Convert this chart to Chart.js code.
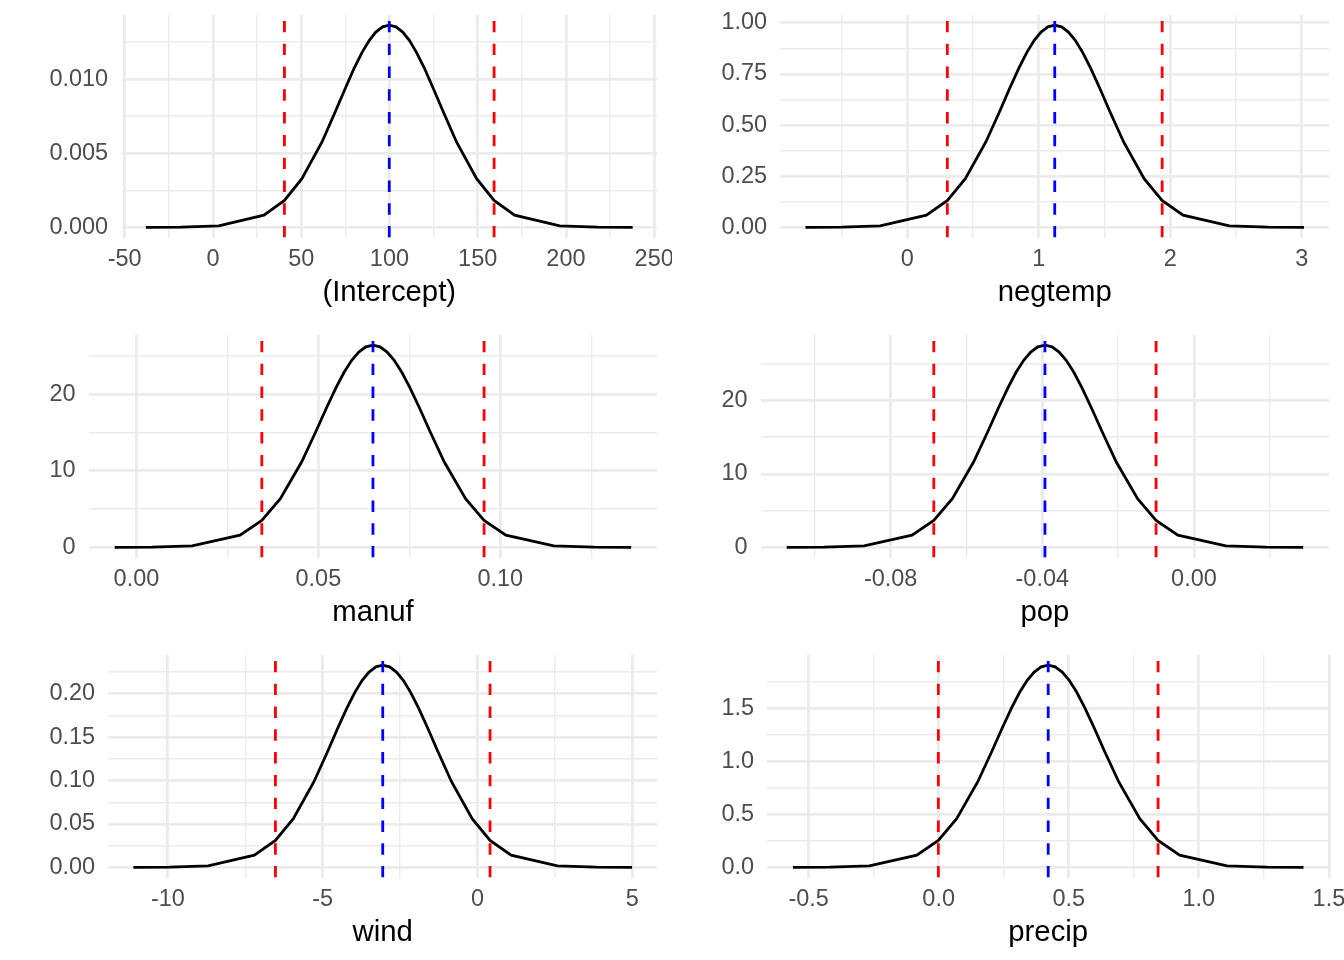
<!DOCTYPE html>
<html>
<head>
<meta charset="utf-8">
<script src="https://cdn.jsdelivr.net/npm/chart.js@4.4.1/dist/chart.umd.min.js"></script>
<style>
  html, body { margin: 0; padding: 0; background: #ffffff; }
  #grid { display: grid; grid-template-columns: 672px 672px; grid-template-rows: 320px 320px 320px; width: 1344px; height: 960px; }
  .cell { position: relative; width: 672px; height: 320px; }
</style>
</head>
<body>
<div id="grid">
  <div class="cell"><canvas id="p0"></canvas></div>
  <div class="cell"><canvas id="p1"></canvas></div>
  <div class="cell"><canvas id="p2"></canvas></div>
  <div class="cell"><canvas id="p3"></canvas></div>
  <div class="cell"><canvas id="p4"></canvas></div>
  <div class="cell"><canvas id="p5"></canvas></div>
</div>
<script>
// === Data: density curves ===
const panelNames = ['(Intercept)', 'negtemp', 'manuf', 'pop', 'wind', 'precip'];
const meanValues = [99.9, 1.122, 0.0650, -0.0393, -3.06, 0.421];
const ciLower = [40.5, 0.305, 0.03446, -0.06862, -6.526, -0.0013];
const ciUpper = [159.3, 1.939, 0.09554, -0.00999, 0.406, 0.8433];

const interceptX = [-38.0, -18.3, 3.3, 28.9, 40.5, 50.4, 61.8, 69.3, 75.2, 80.1, 84.5, 88.6, 92.3, 96.1, 99.9,
  103.7, 107.5, 111.3, 115.3, 119.7, 124.6, 130.5, 138.0, 149.4, 159.3, 170.9, 196.5, 218.1, 237.8];
const interceptY = [0.0000024, 0.0000154, 0.000107, 0.000825, 0.001821, 0.003283, 0.005760, 0.007797, 0.009434, 0.010763, 0.011807, 0.012613, 0.013174, 0.013523, 0.013642,
  0.013523, 0.013174, 0.012613, 0.011807, 0.010763, 0.009434, 0.007797, 0.005760, 0.003283, 0.001821, 0.000825, 0.000107, 0.0000154, 0.0000024];

const negtempX = [-0.774, -0.502, -0.206, 0.146, 0.306, 0.442, 0.598, 0.702, 0.782, 0.850, 0.910, 0.966, 1.018, 1.070, 1.122,
  1.174, 1.226, 1.278, 1.334, 1.394, 1.462, 1.542, 1.646, 1.802, 1.938, 2.098, 2.450, 2.746, 3.018];
const negtempY = [0.00017, 0.00112, 0.00775, 0.0598, 0.1321, 0.2380, 0.4176, 0.5653, 0.6840, 0.7803, 0.8560, 0.9145, 0.9552, 0.9805, 0.9891,
  0.9805, 0.9552, 0.9145, 0.8560, 0.7803, 0.6840, 0.5653, 0.4176, 0.2380, 0.1321, 0.0598, 0.00775, 0.00112, 0.00017];

const manufX = [-0.00596, 0.00422, 0.01530, 0.02847, 0.03446, 0.03955, 0.04539, 0.04928, 0.05228, 0.05482, 0.05707, 0.05916, 0.06111, 0.06305, 0.06500,
  0.06695, 0.06889, 0.07084, 0.07293, 0.07518, 0.07773, 0.08072, 0.08461, 0.09045, 0.09554, 0.10153, 0.11470, 0.12578, 0.13596];
const manufY = [0.0046, 0.0298, 0.207, 1.598, 3.528, 6.359, 11.159, 15.105, 18.276, 20.850, 22.873, 24.435, 25.522, 26.198, 26.428,
  26.198, 25.522, 24.435, 22.873, 20.850, 18.276, 15.105, 11.159, 6.359, 3.528, 1.598, 0.207, 0.0298, 0.0046];

const popX = [-0.10741, -0.09764, -0.08701, -0.07436, -0.06862, -0.06373, -0.05813, -0.05439, -0.05152, -0.04907, -0.04692, -0.04490, -0.04304, -0.04117, -0.03930,
  -0.03743, -0.03556, -0.03370, -0.03168, -0.02953, -0.02709, -0.02421, -0.02048, -0.01487, -0.00999, -0.00424, 0.00841, 0.01904, 0.02881];
const popY = [0.0048, 0.0311, 0.216, 1.664, 3.676, 6.625, 11.625, 15.736, 19.039, 21.721, 23.829, 25.456, 26.588, 27.293, 27.532,
  27.293, 26.588, 25.456, 23.829, 21.721, 19.039, 15.736, 11.625, 6.625, 3.676, 1.664, 0.216, 0.0311, 0.0048];

const windX = [-11.113, -9.958, -8.701, -7.206, -6.526, -5.948, -5.286, -4.844, -4.504, -4.215, -3.961, -3.723, -3.502, -3.281, -3.060,
  -2.839, -2.618, -2.397, -2.160, -1.905, -1.616, -1.276, -0.834, -0.172, 0.406, 1.086, 2.581, 3.838, 4.993];
const windY = [0.00004, 0.00026, 0.00182, 0.01408, 0.03109, 0.05603, 0.09832, 0.13309, 0.16103, 0.18371, 0.20154, 0.21530, 0.22488, 0.23084, 0.23286,
  0.23084, 0.22488, 0.21530, 0.20154, 0.18371, 0.16103, 0.13309, 0.09832, 0.05603, 0.03109, 0.01408, 0.00182, 0.00026, 0.00004];

const precipX = [-0.5602, -0.4194, -0.2662, -0.0841, -0.0013, 0.0691, 0.1498, 0.2037, 0.2451, 0.2802, 0.3113, 0.3403, 0.3672, 0.3941, 0.4210,
  0.4479, 0.4748, 0.5017, 0.5307, 0.5618, 0.5970, 0.6384, 0.6924, 0.7729, 0.8433, 0.9261, 1.1082, 1.2614, 1.4022];
const precipY = [0.00033, 0.00216, 0.01497, 0.1155, 0.2552, 0.4599, 0.8070, 1.0924, 1.3217, 1.5079, 1.6542, 1.7672, 1.8457, 1.8947, 1.9113,
  1.8947, 1.8457, 1.7672, 1.6542, 1.5079, 1.3217, 1.0924, 0.8070, 0.4599, 0.2552, 0.1155, 0.01497, 0.00216, 0.00033];

// === Tick values and labels ===
const interceptXTicks = [-50, 0, 50, 100, 150, 200, 250];
const interceptXLabels = ['-50', '0', '50', '100', '150', '200', '250'];
const interceptXMinor = [-25, 25, 75, 125, 175, 225];
const interceptYTicks = [0, 0.005, 0.010];
const interceptYLabels = ['0.000', '0.005', '0.010'];
const interceptYMinor = [0.0025, 0.0075, 0.0125];

const negtempXTicks = [0, 1, 2, 3];
const negtempXLabels = ['0', '1', '2', '3'];
const negtempXMinor = [-0.5, 0.5, 1.5, 2.5];
const negtempYTicks = [0, 0.25, 0.5, 0.75, 1];
const negtempYLabels = ['0.00', '0.25', '0.50', '0.75', '1.00'];
const negtempYMinor = [0.125, 0.375, 0.625, 0.875];

const manufXTicks = [0, 0.05, 0.10];
const manufXLabels = ['0.00', '0.05', '0.10'];
const manufXMinor = [0.025, 0.075, 0.125];

const popXTicks = [-0.08, -0.04, 0];
const popXLabels = ['-0.08', '-0.04', '0.00'];
const popXMinor = [-0.10, -0.06, -0.02, 0.02];

const countYTicks = [0, 10, 20];
const countYLabels = ['0', '10', '20'];
const countYMinor = [5, 15, 25];

const windXTicks = [-10, -5, 0, 5];
const windXLabels = ['-10', '-5', '0', '5'];
const windXMinor = [-7.5, -2.5, 2.5];
const windYTicks = [0, 0.05, 0.10, 0.15, 0.20];
const windYLabels = ['0.00', '0.05', '0.10', '0.15', '0.20'];
const windYMinor = [0.025, 0.075, 0.125, 0.175, 0.225];

const precipXTicks = [-0.5, 0, 0.5, 1, 1.5];
const precipXLabels = ['-0.5', '0.0', '0.5', '1.0', '1.5'];
const precipXMinor = [-0.25, 0.25, 0.75, 1.25];
const precipYTicks = [0, 0.5, 1, 1.5];
const precipYLabels = ['0.0', '0.5', '1.0', '1.5'];
const precipYMinor = [0.25, 0.75, 1.25, 1.75];

// === Panel setup (axis limits include ggplot's 5% expansion) ===
const panels = [
  { x: interceptX, y: interceptY, xlim: [-51.8, 251.6], ylim: [-0.000682, 0.014324],
    xt: [interceptXTicks, interceptXLabels, interceptXMinor], yt: [interceptYTicks, interceptYLabels, interceptYMinor] },
  { x: negtempX, y: negtempY, xlim: [-0.964, 3.208], ylim: [-0.04945, 1.03853],
    xt: [negtempXTicks, negtempXLabels, negtempXMinor], yt: [negtempYTicks, negtempYLabels, negtempYMinor] },
  { x: manufX, y: manufY, xlim: [-0.01306, 0.14306], ylim: [-1.3214, 27.749],
    xt: [manufXTicks, manufXLabels, manufXMinor], yt: [countYTicks, countYLabels, countYMinor] },
  { x: popX, y: popY, xlim: [-0.11422, 0.03562], ylim: [-1.3766, 28.9086],
    xt: [popXTicks, popXLabels, popXMinor], yt: [countYTicks, countYLabels, countYMinor] },
  { x: windX, y: windY, xlim: [-11.918, 5.798], ylim: [-0.011643, 0.24450],
    xt: [windXTicks, windXLabels, windXMinor], yt: [windYTicks, windYLabels, windYMinor] },
  { x: precipX, y: precipY, xlim: [-0.6583, 1.5003], ylim: [-0.09556, 2.00682],
    xt: [precipXTicks, precipXLabels, precipXMinor], yt: [precipYTicks, precipYLabels, precipYMinor] }
];

const FONT = '"Liberation Sans", Arial, Helvetica, sans-serif';
const GRID = '#EBEBEB';

// major + minor ticks, minor ones get no label and a thinner line
function tickSetter(major, minor) {
  return function (scale) {
    const all = major.map(v => ({ value: v, minor: false }))
      .concat(minor.map(v => ({ value: v, minor: true })))
      .filter(t => t.value >= scale.min && t.value <= scale.max);
    all.sort((a, b) => a.value - b.value);
    scale.ticks = all;
  };
}

function labelFor(major, labels) {
  return function (value, index, ticks) {
    if (ticks[index].minor) return '';
    const k = major.findIndex(v => Math.abs(v - value) < 1e-9);
    return k >= 0 ? labels[k] : '';
  };
}

function vline(xv, ylim, color) {
  return {
    data: [{ x: xv, y: ylim[0] }, { x: xv, y: ylim[1] }],
    borderColor: color,
    borderWidth: 2.8,
    borderDash: [11.4, 11.4],
    borderCapStyle: 'butt',
    pointRadius: 0,
    order: 0
  };
}

panels.forEach((p, i) => {
  new Chart(document.getElementById('p' + i), {
    type: 'line',
    data: {
      datasets: [
        {
          data: p.x.map((v, j) => ({ x: v, y: p.y[j] })),
          borderColor: '#000000',
          borderWidth: 2.8,
          pointRadius: 0,
          tension: 0,
          order: 1
        },
        vline(ciLower[i], p.ylim, '#FF0000'),
        vline(ciUpper[i], p.ylim, '#FF0000'),
        vline(meanValues[i], p.ylim, '#0000FF')
      ]
    },
    options: {
      responsive: true,
      maintainAspectRatio: false,
      animation: false,
      layout: { padding: { left: 36, right: 15, top: 15, bottom: 12.35 } },
      plugins: { legend: { display: false }, tooltip: { enabled: false } },
      scales: {
        x: {
          type: 'linear',
          min: p.xlim[0],
          max: p.xlim[1],
          afterBuildTicks: tickSetter(p.xt[0], p.xt[2]),
          afterFit: s => { s.paddingLeft = 0; s.paddingRight = 0; },
          border: { display: false },
          grid: {
            color: GRID,
            lineWidth: c => (c.tick && c.tick.minor ? 1.4 : 2.8),
            drawTicks: true,
            tickLength: 7.75,
            tickColor: 'rgba(0,0,0,0)'
          },
          ticks: {
            callback: labelFor(p.xt[0], p.xt[1]),
            autoSkip: false,
            maxRotation: 0,
            minRotation: 0,
            padding: 3,
            color: '#4D4D4D',
            font: { family: FONT, size: 23.47, lineHeight: 1 }
          },
          title: {
            display: true,
            text: panelNames[i],
            color: '#000000',
            font: { family: FONT, size: 29.33, lineHeight: 1 },
            padding: { top: 3.6, bottom: 0 }
          }
        },
        y: {
          type: 'linear',
          min: p.ylim[0],
          max: p.ylim[1],
          afterBuildTicks: tickSetter(p.yt[0], p.yt[2]),
          afterFit: s => { s.paddingTop = 0; s.paddingBottom = 0; },
          border: { display: false },
          grid: {
            color: GRID,
            lineWidth: c => (c.tick && c.tick.minor ? 1.4 : 2.8),
            drawTicks: false
          },
          ticks: {
            callback: labelFor(p.yt[0], p.yt[1]),
            autoSkip: false,
            padding: 13.4,
            color: '#4D4D4D',
            font: { family: FONT, size: 23.47, lineHeight: 1 }
          }
        }
      }
    }
  });
});
</script>
</body>
</html>
